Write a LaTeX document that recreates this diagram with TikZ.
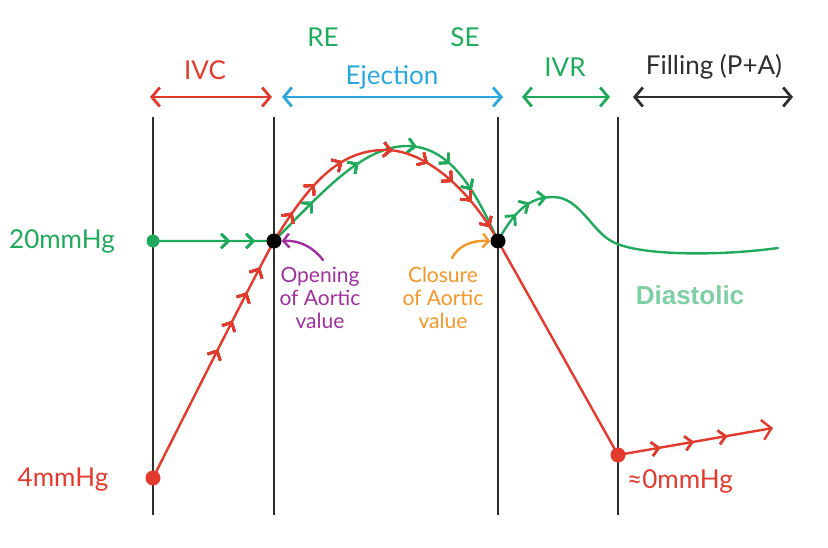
\documentclass[tikz,border=0pt]{standalone}
\usepackage{fontspec}
\setmainfont{Lato}
\newfontfamily\diafont{Liberation Sans}
\usetikzlibrary{arrows.meta,decorations.markings}
\definecolor{cred}{HTML}{E23B2E}
\definecolor{cgreen}{HTML}{1FAA5C}
\definecolor{cblue}{HTML}{2AA7DF}
\definecolor{cdark}{HTML}{2E2E2E}
\definecolor{cpurple}{HTML}{A0309F}
\definecolor{corange}{HTML}{F5962A}
\definecolor{cdia}{HTML}{7FCFA2}
\tikzset{
  vline/.style={cdark, line width=2.4pt},
  curve/.style={line width=2.4pt, line cap=round, line join=round},
  span/.style={line width=2.8pt, {Straight Barb[length=8pt,width=19pt]}-{Straight Barb[length=8pt,width=19pt]}},
  lbl/.style={font=\fontsize{26}{29}\selectfont, inner sep=0pt},
  note/.style={font=\fontsize{21}{23}\selectfont, align=center, inner sep=0pt},
  chev/.style={decoration={markings, mark=#1}, postaction={decorate}},
  dot/.style={circle, inner sep=0pt, minimum size=#1},
}
\def\ch{\arrow{Straight Barb[length=7pt,width=14pt]}}
\begin{document}
\begin{tikzpicture}[x=1pt,y=-1pt]
\useasboundingbox (0,0) rectangle (828,548);
% vertical lines
\coordinate (t1) at (153,117); \coordinate (b1) at (153,515);
\coordinate (t2) at (274,117); \coordinate (b2) at (274,515);
\coordinate (t3) at (498,117); \coordinate (b3) at (498,515);
\coordinate (t4) at (618,117); \coordinate (b4) at (618,515);
\draw[vline] (t1) -- (b1);
\draw[vline] (t2) -- (b2);
\draw[vline] (t3) -- (b3);
\draw[vline] (t4) -- (b4);
% top spans
\coordinate (ivcA) at (150,97); \coordinate (ivcB) at (272,97);
\coordinate (ejA) at (282,97); \coordinate (ejB) at (503,97);
\coordinate (ivrA) at (522,97); \coordinate (ivrB) at (610,97);
\coordinate (fiA) at (633,97); \coordinate (fiB) at (793,97);
\draw[span, cred] (ivcA) -- (ivcB);
\draw[span, cblue] (ejA) -- (ejB);
\draw[span, cgreen] (ivrA) -- (ivrB);
\draw[span, cdark] (fiA) -- (fiB);
\node[lbl, text=cred] (ivc) at (205,70) {IVC};
\node[lbl, text=cblue] (ej) at (392,77) {Ejection};
\node[lbl, text=cgreen] (ivr) at (565,67) {IVR};
\node[lbl, text=cdark] (fil) at (714,67) {Filling (P+A)};
\node[lbl, text=cgreen] (re) at (323,37) {RE};
\node[lbl, text=cgreen] (se) at (465,37) {SE};
% key points
\coordinate (g0) at (153,241);
\coordinate (r0) at (153,478);
\coordinate (op) at (274,241);
\coordinate (cl) at (498,241);
\coordinate (rz) at (618,455);
\coordinate (rend) at (773,428);
\coordinate (gend) at (778,248);
% green pressure curve
\draw[curve, cgreen, chev={at position 77pt with {\ch}}, chev={at position 102pt with {\ch}},
  chev={at position 176pt with {\ch}}, chev={at position 236pt with {\ch}},
  chev={at position 298pt with {\ch}}, chev={at position 336pt with {\ch}},
  chev={at position 370pt with {\ch}}]
  (g0) -- (op) .. controls (320,195) and (360,148) .. (405,146)
  .. controls (450,145) and (475,190) .. (cl);
\draw[curve, cgreen, chev={at position 32pt with {\ch}}, chev={at position 50pt with {\ch}},
  chev={at position 68pt with {\ch}}]
  (cl) .. controls (515,210) and (530,197) .. (553,197)
  .. controls (580,197) and (592,232) .. (613,242)
  .. controls (640,256) and (720,256) .. (gend);
% red pressure curve
\draw[curve, cred,
  chev={at position 144pt with {\ch}}, chev={at position 176pt with {\ch}},
  chev={at position 208pt with {\ch}}, chev={at position 236pt with {\ch}},
  chev={at position 300pt with {\ch}}, chev={at position 336pt with {\ch}},
  chev={at position 372pt with {\ch}}, chev={at position 424pt with {\ch}},
  chev={at position 462pt with {\ch}}, chev={at position 493pt with {\ch}},
  chev={at position 520pt with {\ch}}, chev={at position 552pt with {\ch}}]
  (r0) .. controls (200,385) and (250,285) .. (op)
  .. controls (310,182) and (340,150) .. (385,150)
  .. controls (430,150) and (475,198) .. (cl) -- (rz);
\draw[curve, cred, -{Straight Barb[length=9pt,width=20pt]},
  chev={at position 43pt with {\ch}}, chev={at position 77pt with {\ch}},
  chev={at position 111pt with {\ch}}]
  (rz) -- (rend);
% dots
\node[dot=13pt, fill=cgreen] (gd) at (g0) {};
\node[dot=15pt, fill=cred] (rd0) at (r0) {};
\node[dot=15pt, fill=cred] (rdz) at (rz) {};
\node[dot=15pt, fill=black] (opd) at (op) {};
\node[dot=15pt, fill=black] (cld) at (cl) {};
% value annotations
\node[note, text=cpurple] (opn) at (320,298) {Opening\\of Aortic\\value};
\node[note, text=corange] (cln) at (443,298) {Closure\\of Aortic\\value};
\coordinate (pa) at (323,260);
\coordinate (oa) at (452,258);
\draw[curve, cpurple, -{Straight Barb[length=6pt,width=14pt]}] (pa) .. controls (314,248) and (300,240) .. (opd.east);
\draw[curve, corange, -{Straight Barb[length=6pt,width=14pt]}] (oa) .. controls (458,246) and (472,240) .. (cld.west);
% pressure labels
\node[lbl, text=cgreen] (p20) at (62,241) {20mmHg};
\node[lbl, text=cred] (p4) at (63,480) {4mmHg};
\node[lbl, text=cred] (p0) at (680,481) {≈0mmHg};
\node[inner sep=0pt, text=cdia, font=\diafont\bfseries\fontsize{26}{29}\selectfont] (dia) at (690,295) {Diastolic};
\end{tikzpicture}
\end{document}
